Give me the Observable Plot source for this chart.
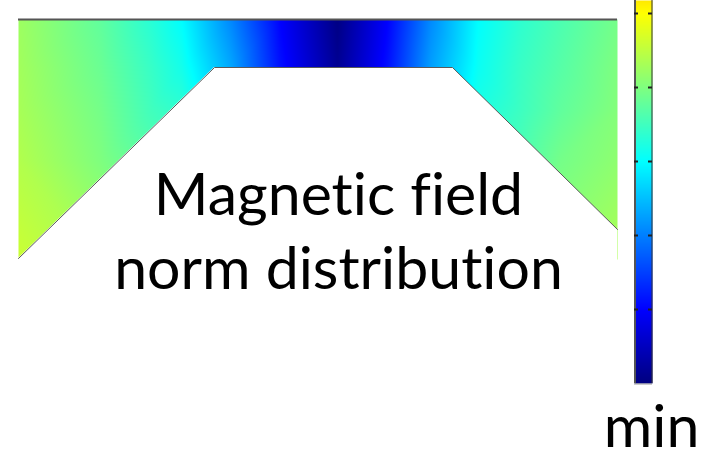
<!DOCTYPE html>
<html>
<head>
<meta charset="utf-8">
<script src="https://cdn.jsdelivr.net/npm/d3@7"></script>
<script src="https://cdn.jsdelivr.net/npm/@observablehq/plot@0.6"></script>
<style>
  html, body { margin: 0; padding: 0; background: #fff; }
  #chart svg { display: block; }
  #chart text { font-variant-ligatures: none; font-feature-settings: "liga" 0, "clig" 0; }
</style>
</head>
<body>
<div id="chart"></div>
<script>
// Sample grid of the normalized field magnitude (0 = min) over the yoke section.
const fieldX = [18, 100, 150, 181, 230, 280, 337, 387, 430, 478, 520, 560, 617];
const fieldY = [19, 67, 110, 160, 260];
const fieldRows = [
  [0.530, 0.470, 0.415, 0.375, 0.26, 0.125, 0.005, 0.125, 0.26, 0.375, 0.42, 0.45, 0.490],
  [0.535, 0.480, 0.430, 0.395, 0.29, 0.140, 0.020, 0.140, 0.28, 0.385, 0.43, 0.46, 0.500],
  [0.540, 0.490, 0.440, 0.420, 0.33, 0.200, 0.100, 0.200, 0.31, 0.400, 0.435, 0.47, 0.505],
  [0.550, 0.500, 0.460, 0.440, 0.38, 0.300, 0.200, 0.300, 0.36, 0.420, 0.45, 0.49, 0.515],
  [0.575, 0.540, 0.500, 0.480, 0.45, 0.400, 0.350, 0.400, 0.45, 0.480, 0.50, 0.52, 0.545]
];

// Section outline: top edge and the inner (air) boundary, left to right
const topEdgeX = [18, 617];
const topEdgeY = 19;
const innerX = [18, 214, 452, 617];
const innerY = [258, 67, 67, 229];

// Colour bar: value ticks, drawn extent and value-to-position mapping
const barTicks = [0.125, 0.25, 0.375, 0.5, 0.625];
const barX = [634, 652];
const barBottom = 383;
const barPxPerUnit = 592;

const titleLines = ["Magnetic field", "norm distribution"];
const barLabel = "min";

// Jet colour map: nine stops at 1/8 steps
const jetStops = ["#00007f", "#0000ff", "#007fff", "#00ffff", "#7fff7f",
                  "#ffff00", "#ff7f00", "#ff0000", "#7f0000"];
const jet = d3.piecewise(d3.interpolateRgb, jetStops);

const samples = [];
fieldY.forEach((y, j) => fieldX.forEach((x, i) => samples.push({x, y, v: fieldRows[j][i]})));
const inner = innerX.map((x, i) => ({x, y: innerY[i]}));
const barY = v => barBottom - v * barPxPerUnit;

const W = 714, H = 458;
const font = "Lato, 'Open Sans', sans-serif";

const chart = Plot.plot({
  width: W,
  height: H,
  margin: 0,
  style: {background: "#fff", overflow: "visible"},
  x: {domain: [0, W], axis: null},
  y: {domain: [0, H], reverse: true, axis: null},
  color: {type: "linear", domain: [0, 1], interpolate: t => jet(t)},
  marks: [
    // field magnitude over the bounding box of the section
    Plot.raster(samples, {
      x: "x", y: "y", fill: "v", interpolate: "barycentric",
      x1: topEdgeX[0], x2: topEdgeX[1], y1: topEdgeY, y2: innerY[0] + 1
    }),
    // air region below the inner boundary
    Plot.areaY(inner, {x: "x", y1: "y", y2: innerY[0] + 4, fill: "#fff"}),
    Plot.line(inner, {x: "x", y: "y", stroke: "#5a5a5a", strokeWidth: 1}),
    Plot.ruleY([topEdgeY], {x1: topEdgeX[0], x2: topEdgeX[1], stroke: "#555", strokeWidth: 2.2}),

    // colour bar
    Plot.raster({
      fill: (x, y) => (barBottom - y) / barPxPerUnit,
      x1: barX[0], x2: barX[1], y1: 0, y2: barBottom
    }),
    Plot.ruleX([barX[0] + 0.5], {y1: 0, y2: barBottom, stroke: "#555", strokeWidth: 2}),
    Plot.ruleX([barX[1] - 0.5], {y1: 0, y2: barBottom, stroke: "#333", strokeWidth: 1}),
    Plot.ruleY([barBottom + 0.5], {x1: barX[0], x2: barX[1], stroke: "#999", strokeWidth: 1}),
    Plot.ruleY(barTicks, {y: barY, x1: barX[0], x2: barX[0] + 4, stroke: "#222", strokeWidth: 2}),
    Plot.ruleY(barTicks, {y: barY, x1: barX[1] - 4, x2: barX[1], stroke: "#222", strokeWidth: 2}),

    // labels
    Plot.text(titleLines, {
      x: 338, y: (d, i) => 214 + i * 74, text: d => d,
      fontSize: 59, fontFamily: font, fill: "#000", textAnchor: "middle", lineAnchor: "bottom"
    }),
    Plot.text([barLabel], {
      x: 651, y: 446, text: d => d,
      fontSize: 59, fontFamily: font, fill: "#000", textAnchor: "middle", lineAnchor: "bottom"
    })
  ]
});

document.getElementById("chart").append(chart);
</script>
</body>
</html>
